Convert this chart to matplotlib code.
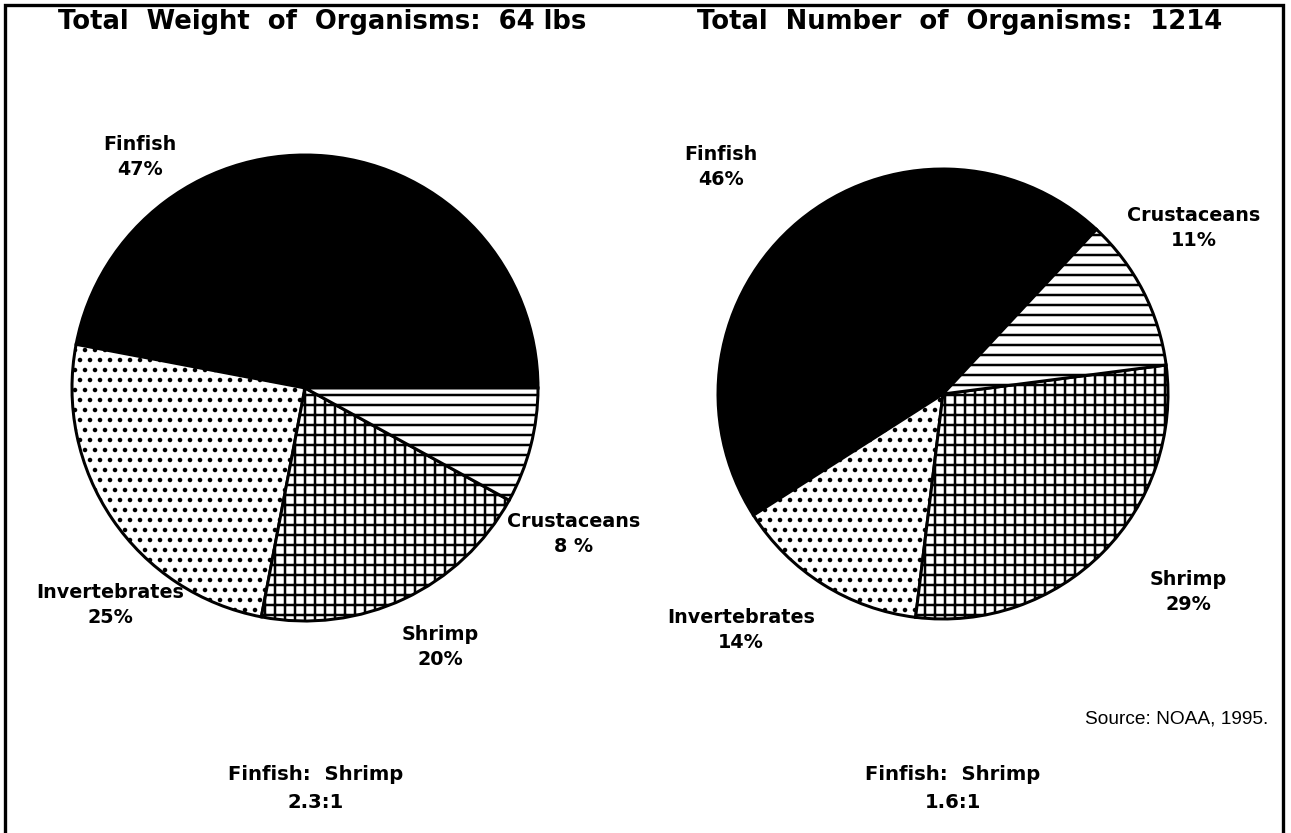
import matplotlib
matplotlib.use("Agg")
import matplotlib.pyplot as plt
from matplotlib.patches import Rectangle

# data
categories = ["Finfish", "Invertebrates", "Shrimp", "Crustaceans"]
weight_pct = [47, 25, 20, 8]
number_pct = [46, 14, 29, 11]
total_weight = "64 lbs"
total_number = "1214"
ratio_weight = "2.3:1"
ratio_number = "1.6:1"

colors = ["black", "white", "white", "white"]
hatches = ["", "..", "++", "--"]

plt.rcParams["hatch.linewidth"] = 1.5
plt.rcParams["hatch.color"] = "black"

W, H = 1291, 833
DPI = 120
fig = plt.figure(figsize=(W / DPI, H / DPI), dpi=DPI)
ax = fig.add_axes([0, 0, 1, 1])

wp = dict(edgecolor="black", linewidth=1.8)

# left pie: by weight
ax.pie(
    weight_pct,
    colors=colors,
    hatch=hatches,
    startangle=0,
    center=(305, H - 388),
    radius=233,
    wedgeprops=wp,
    frame=True,
)

# right pie: by number
ax.pie(
    number_pct,
    colors=colors,
    hatch=hatches,
    startangle=47,
    center=(943, H - 394),
    radius=225,
    wedgeprops=wp,
    frame=True,
)

ax.set_xlim(0, W)
ax.set_ylim(0, H)
ax.set_aspect("equal")
ax.axis("off")

# frame around the whole figure
ax.add_patch(Rectangle((5, -10), 1278, H - 5 + 10, fill=False,
                       edgecolor="black", linewidth=2, clip_on=False))

bold = dict(family="DejaVu Sans", fontweight="bold", color="black")

title_kw = dict(fontsize=15.5, ha="center", va="center", **bold)
ax.text(322, H - 22, "Total  Weight  of  Organisms:  " + total_weight, **title_kw)
ax.text(960, H - 22, "Total  Number  of  Organisms:  " + total_number, **title_kw)

label_kw = dict(fontsize=11.5, ha="center", va="center", linespacing=1.4, **bold)

# left pie labels
ax.text(140, H - 157, f"{categories[0]}\n{weight_pct[0]}%", **label_kw)
ax.text(110, H - 605, f"{categories[1]}\n{weight_pct[1]}%", **label_kw)
ax.text(440, H - 647, f"{categories[2]}\n{weight_pct[2]}%", **label_kw)
ax.text(574, H - 534, f"{categories[3]}\n{weight_pct[3]} %", **label_kw)

# right pie labels
ax.text(721, H - 167, f"{categories[0]}\n{number_pct[0]}%", **label_kw)
ax.text(741, H - 630, f"{categories[1]}\n{number_pct[1]}%", **label_kw)
ax.text(1188, H - 592, f"{categories[2]}\n{number_pct[2]}%", **label_kw)
ax.text(1194, H - 228, f"{categories[3]}\n{number_pct[3]}%", **label_kw)

ratio_kw = dict(fontsize=11.8, ha="center", va="center", linespacing=1.6, **bold)
ax.text(316, H - 789, "Finfish:  Shrimp\n" + ratio_weight, **ratio_kw)
ax.text(953, H - 789, "Finfish:  Shrimp\n" + ratio_number, **ratio_kw)

ax.text(1268, H - 719, "Source: NOAA, 1995.", family="Liberation Sans",
        fontsize=11.5, ha="right", va="center", color="black")

fig.savefig("out.png", dpi=DPI)
